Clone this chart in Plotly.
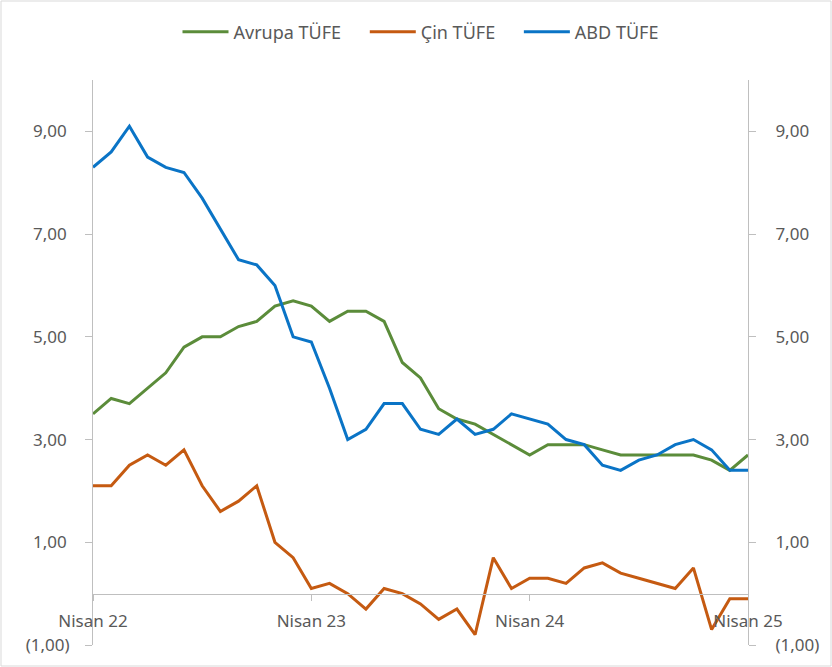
import plotly.graph_objects as go

# Monthly data, Nisan 2022 .. Nisan 2025 (37 points)
months = list(range(37))
avrupa_tufe = [3.5, 3.8, 3.7, 4.0, 4.3, 4.8, 5.0, 5.0, 5.2, 5.3, 5.6, 5.7,
               5.6, 5.3, 5.5, 5.5, 5.3, 4.5, 4.2, 3.6, 3.4, 3.3, 3.1, 2.9,
               2.7, 2.9, 2.9, 2.9, 2.8, 2.7, 2.7, 2.7, 2.7, 2.7, 2.6, 2.4,
               2.7]
cin_tufe = [2.1, 2.1, 2.5, 2.7, 2.5, 2.8, 2.1, 1.6, 1.8, 2.1, 1.0, 0.7,
            0.1, 0.2, 0.0, -0.3, 0.1, 0.0, -0.2, -0.5, -0.3, -0.8, 0.7, 0.1,
            0.3, 0.3, 0.2, 0.5, 0.6, 0.4, 0.3, 0.2, 0.1, 0.5, -0.7, -0.1,
            -0.1]
abd_tufe = [8.3, 8.6, 9.1, 8.5, 8.3, 8.2, 7.7, 7.1, 6.5, 6.4, 6.0, 5.0,
            4.9, 4.0, 3.0, 3.2, 3.7, 3.7, 3.2, 3.1, 3.4, 3.1, 3.2, 3.5,
            3.4, 3.3, 3.0, 2.9, 2.5, 2.4, 2.6, 2.7, 2.9, 3.0, 2.8, 2.4,
            2.4]

x_tickvals = [0, 12, 24, 36]
x_ticktext = ["Nisan 22", "Nisan 23", "Nisan 24", "Nisan 25"]
y_tickvals = [-1, 1, 3, 5, 7, 9]
y_ticktext = ["(1,00)", "1,00", "3,00", "5,00", "7,00", "9,00"]

Y_MIN, Y_MAX = -1, 10
AXIS_GREY = "#BFBFBF"
TEXT_GREY = "#595959"
FONT = "Noto Sans"
FONT_SIZE = 17

fig = go.Figure()

series = [
    ("Avrupa TÜFE", avrupa_tufe, "#5B8C3A"),
    ("Çin TÜFE", cin_tufe, "#C55A11"),
    ("ABD TÜFE", abd_tufe, "#0A74C6"),
]
pad = "\u00a0" * 4  # wider gap between legend entries, like Excel
for i, (name, vals, color) in enumerate(series):
    fig.add_trace(go.Scatter(
        x=months, y=vals, mode="lines",
        name=name + (pad if i < len(series) - 1 else ""),
        line=dict(color=color, width=3),
        hovertemplate=name + ": %{y:.1f}<extra></extra>",
    ))

# invisible trace so the right-hand axis is drawn
fig.add_trace(go.Scatter(
    x=months, y=abd_tufe, yaxis="y2", mode="lines",
    line=dict(color="rgba(0,0,0,0)"), showlegend=False, hoverinfo="skip",
))

# Excel-style: the positive labels leave room for the closing parenthesis
left_text = [t if t.startswith("(") else t + "\u2009" for t in y_ticktext]

yaxis_common = dict(
    range=[Y_MIN, Y_MAX],
    tickvals=y_tickvals,
    showgrid=False,
    zeroline=False,
    showline=True,
    linecolor=AXIS_GREY,
    linewidth=1,
    ticks="outside",
    ticklen=7,
    tickcolor=AXIS_GREY,
    tickfont=dict(family=FONT, size=FONT_SIZE, color=TEXT_GREY),
)

fig.update_layout(
    width=832,
    height=667,
    margin=dict(l=93, r=84, t=80, b=22),
    paper_bgcolor="white",
    plot_bgcolor="white",
    showlegend=True,
    legend=dict(
        orientation="h",
        x=0.5, xanchor="center",
        y=1.085, yanchor="middle",
        font=dict(family=FONT, size=18, color=TEXT_GREY),
        itemwidth=46,
        traceorder="normal",
    ),
    xaxis=dict(
        range=[0, 36],
        tickvals=x_tickvals,
        ticktext=x_ticktext,
        showgrid=False,
        zeroline=False,
        showline=True,
        linecolor=AXIS_GREY,
        linewidth=1,
        ticks="outside",
        ticklen=6,
        tickcolor=AXIS_GREY,
        ticklabelstandoff=6,
        anchor="free",
        position=(0 - Y_MIN) / (Y_MAX - Y_MIN),
        tickfont=dict(family=FONT, size=FONT_SIZE, color=TEXT_GREY),
    ),
    yaxis=dict(side="left", ticktext=left_text, ticklabelstandoff=12,
               **yaxis_common),
    yaxis2=dict(side="right", overlaying="y", ticktext=y_ticktext,
                ticklabelstandoff=16, **yaxis_common),
    shapes=[dict(
        type="rect", xref="paper", yref="paper",
        x0=-92 / 655, x1=1 + 83 / 655,
        y0=-21 / 565, y1=1 + 79 / 565,
        line=dict(color="#D9D9D9", width=1),
    )],
)

fig.write_html("out.html", config={"displayModeBar": False},
               post_script="document.body.style.margin='0';")
